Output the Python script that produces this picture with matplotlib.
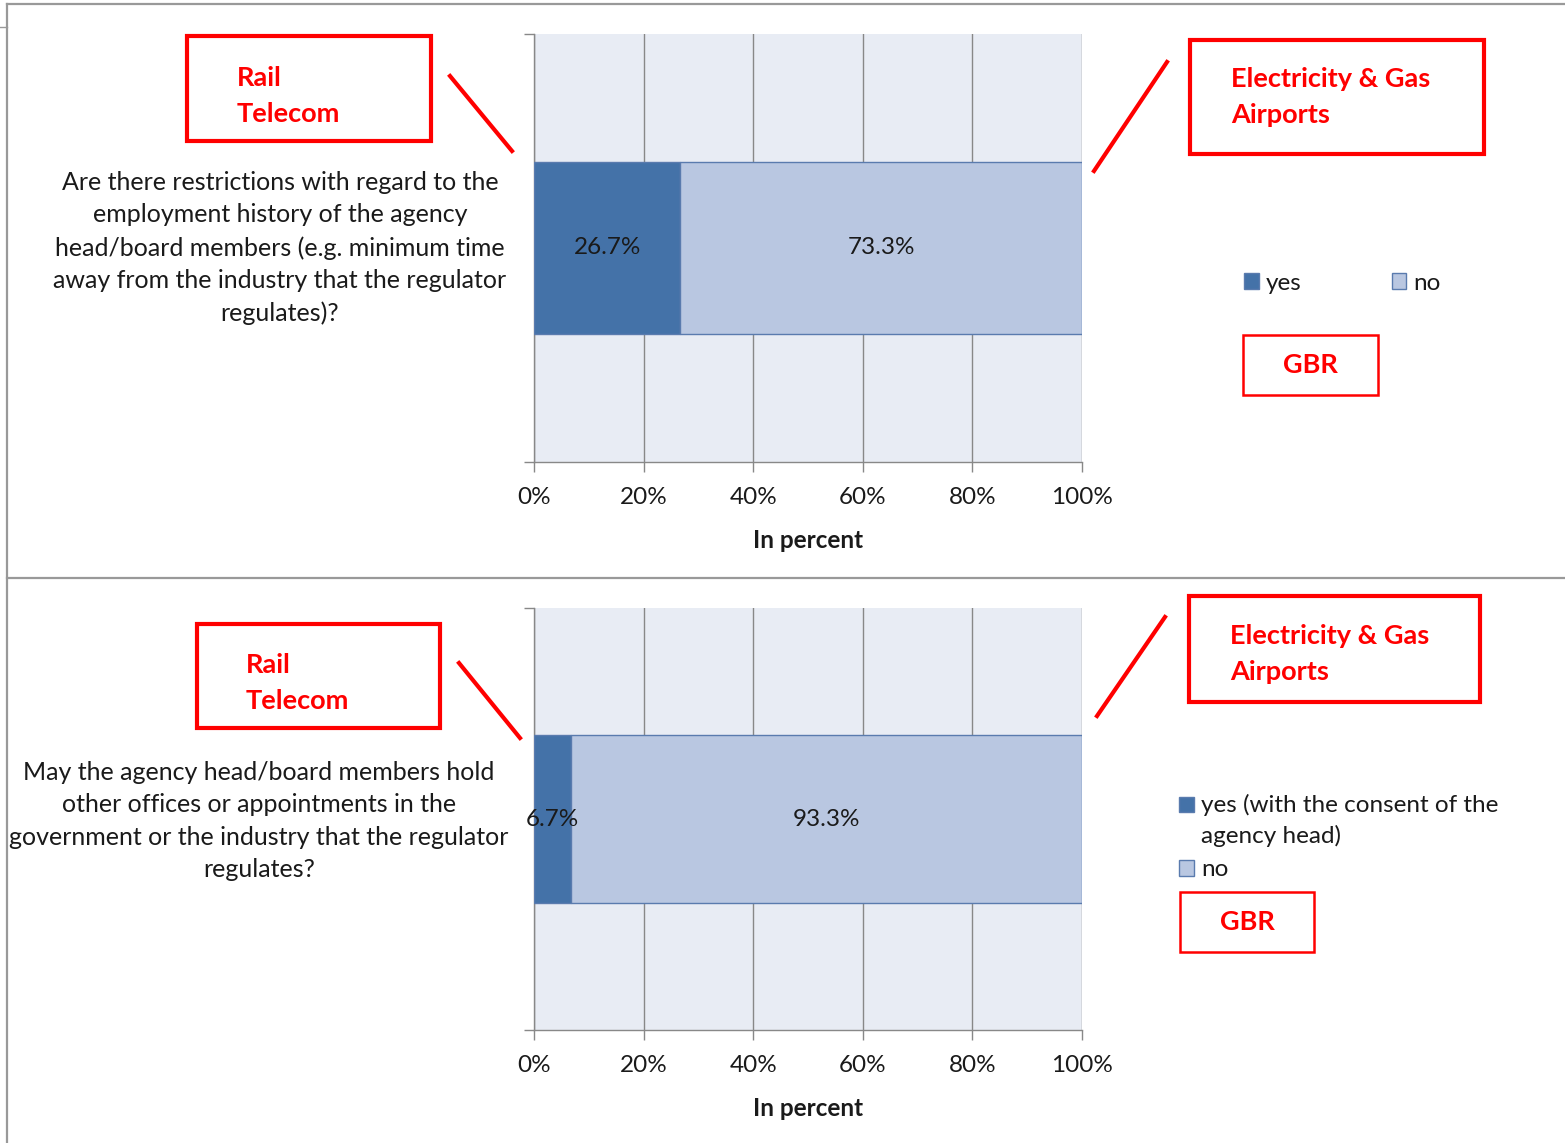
import numpy as np
import matplotlib.pyplot as plt
from matplotlib.patches import Rectangle
from matplotlib.lines import Line2D

# datos
preguntas = [
    "Are there restrictions with regard to the\nemployment history of the agency\nhead/board members (e.g. minimum time\naway from the industry that the regulator\nregulates)?",
    "May the agency head/board members hold\nother offices or appointments in the\ngovernment or the industry that the regulator\nregulates?",
]
si = [26.7, 6.7]
no = [73.3, 93.3]
etiquetas_si = ["yes", "yes (with the consent of the\nagency head)"]
etiqueta_no = "no"
ticks_x = [0, 20, 40, 60, 80, 100]
sectores_izq = "Rail\nTelecom"
sectores_der = "Electricity & Gas\nAirports"
pais = "GBR"

W, H = 1565, 1143
plt.rcParams['font.family'] = ['Lato', 'DejaVu Sans']

c_si = '#4472A8'
c_no = '#B9C7E1'
c_borde = '#5A7BAE'
c_fondo = '#E8ECF4'
c_gris = '#888888'
rojo = '#FF0000'
negro = '#1a1a1a'
fs = 17.5
fs_rojo = 19.5

fig = plt.figure(figsize=(W / 100, H / 100), dpi=100)


def fx(x):
    return x / W


def fy(y):
    return 1 - y / H


def caja(x0, y0, x1, y1, lw):
    fig.patches.append(Rectangle((fx(x0), fy(y1)), fx(x1) - fx(x0), fy(y0) - fy(y1),
                                 transform=fig.transFigure, fill=False,
                                 edgecolor=rojo, linewidth=lw))


def linea(x0, y0, x1, y1, color=rojo, lw=3):
    fig.lines.append(Line2D([fx(x0), fx(x1)], [fy(y0), fy(y1)],
                            transform=fig.transFigure, color=color, linewidth=lw))


# marcos de los paneles
linea(7, 4, W, 4, color='#999999', lw=1.6)
linea(7, 4, 7, H, color='#999999', lw=1.6)
linea(0, 27, 7, 27, color='#999999', lw=1.0)
linea(7, 578, W, 578, color='#999999', lw=1.6)

# posiciones de los paneles (pixeles)
paneles = [
    dict(ax=(534, 34, 1082, 462), q=(280, 248),
         izq=(187, 36, 431, 141), izq_t=(237, 96), lin_izq=(450, 76, 512, 151),
         der=(1190, 40, 1484, 154), der_t=(1231, 97), lin_der=(1167, 62, 1094, 171),
         gbr=(1243, 335, 1378, 395)),
    dict(ax=(534, 608, 1082, 1030), q=(259, 821),
         izq=(197, 624, 440, 728), izq_t=(246, 683), lin_izq=(459, 663, 520, 738),
         der=(1189, 596, 1480, 702), der_t=(1230, 654), lin_der=(1165, 617, 1097, 716),
         gbr=(1180, 892, 1314, 952)),
]

for i, p in enumerate(paneles):
    x0, y0, x1, y1 = p['ax']
    ax = fig.add_axes([fx(x0), fy(y1), fx(x1) - fx(x0), fy(y0) - fy(y1)])
    ax.set_facecolor(c_fondo)
    b1 = ax.barh([0], [si[i]], height=0.4, color=c_si, edgecolor=c_borde, linewidth=1,
                 label=etiquetas_si[i], zorder=3)
    b2 = ax.barh([0], [no[i]], left=[si[i]], height=0.4, color=c_no, edgecolor=c_borde,
                 linewidth=1, label=etiqueta_no, zorder=3)
    ax.bar_label(b1, labels=[f'{v:.1f}%' for v in [si[i]]], label_type='center',
                 fontsize=fs, color=negro, zorder=5)
    ax.bar_label(b2, labels=[f'{v:.1f}%' for v in [no[i]]], label_type='center',
                 fontsize=fs, color=negro, zorder=5)
    ax.set_xlim(0, 100)
    ax.set_ylim(-0.5, 0.5)
    ax.set_xticks(ticks_x)
    ax.set_xticklabels([f'{t}%' for t in ticks_x], fontsize=fs, color=negro)
    ax.set_yticks([-0.5, 0.5])
    ax.set_yticklabels([])
    ax.grid(axis='x', color=c_gris, linewidth=1, zorder=1)
    ax.set_axisbelow(True)
    for s in ['top', 'right']:
        ax.spines[s].set_visible(False)
    for s in ['left', 'bottom']:
        ax.spines[s].set_color(c_gris)
        ax.spines[s].set_linewidth(1)
    ax.tick_params(axis='both', color=c_gris, length=7, width=1, pad=11)
    ax.set_xlabel('In percent', fontsize=fs, fontweight='bold', labelpad=15, color=negro)

    # pregunta
    fig.text(fx(p['q'][0]), fy(p['q'][1]), preguntas[i], ha='center', va='center',
             fontsize=18, linespacing=1.5, color=negro)

    # cajas rojas
    caja(*p['izq'], lw=3)
    fig.text(fx(p['izq_t'][0]), fy(p['izq_t'][1]), sectores_izq, ha='left', va='center',
             fontsize=fs_rojo, fontweight='bold', color=rojo, linespacing=1.58)
    linea(*p['lin_izq'])
    caja(*p['der'], lw=3)
    fig.text(fx(p['der_t'][0]), fy(p['der_t'][1]), sectores_der, ha='left', va='center',
             fontsize=fs_rojo, fontweight='bold', color=rojo, linespacing=1.58)
    linea(*p['lin_der'])
    gx0, gy0, gx1, gy1 = p['gbr']
    caja(gx0, gy0, gx1, gy1, lw=1.8)
    fig.text(fx((gx0 + gx1) / 2), fy((gy0 + gy1) / 2), pais, ha='center', va='center',
             fontsize=fs_rojo, fontweight='bold', color=rojo)

    # leyenda
    if i == 0:
        fig.legend(handles=[b1, b2], loc='center left', bbox_to_anchor=(fx(1244), fy(283)),
                   ncol=2, frameon=False, fontsize=fs, handlelength=0.6, handleheight=0.6,
                   handletextpad=0.3, columnspacing=3.7, borderpad=0, borderaxespad=0,
                   labelcolor=negro)
    else:
        leg = fig.legend(handles=[b1, b2], loc='upper left', bbox_to_anchor=(fx(1179), fy(794)),
                         ncol=1, frameon=False, fontsize=fs, handlelength=0.6, handleheight=0.6,
                         handletextpad=0.3, labelspacing=0.5, borderpad=0, borderaxespad=0,
                         labelcolor=negro)
        for t in leg.get_texts():
            t.set_linespacing(1.5)
        # cuadro alineado con la primera linea
        h = leg.legend_handles[0]
        h.set_y(h.get_y() + 11.5)

fig.savefig('out.png', dpi=100)
